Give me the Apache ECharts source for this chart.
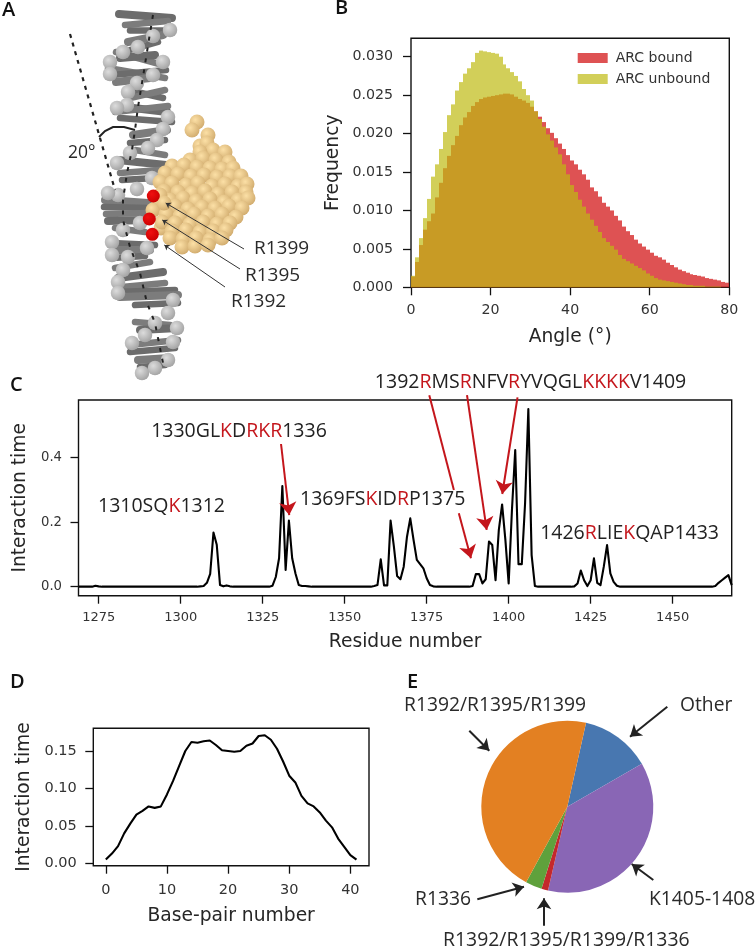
<!DOCTYPE html>
<html><head><meta charset="utf-8">
<style>html,body{margin:0;padding:0;background:#fff}#chart{width:756px;height:949px;filter:blur(.45px)}</style>
<script src="https://cdn.jsdelivr.net/npm/echarts@6/dist/echarts.min.js"></script>
</head><body><div id="chart"></div>
<script>
// ---- Panel B: histogram of angles (1 degree bins, 0..79)
const arcBound = [.0014,.0033,.0055,.0075,.0086,.0096,.0117,.0136,.0155,.0171,.0185,.0197,.0211,.0221,.0228,.0236,.0241,.0245,.0247,.0248,.0249,.0250,.0251,.0252,.0252,.0251,.0248,.0245,.0243,.0240,.0235,.0229,.0222,.0215,.0207,.0201,.0194,.0187,.0180,.0172,.0165,.0160,.0153,.0147,.0140,.0130,.0125,.0118,.0110,.0105,.0100,.0093,.0087,.0079,.0073,.0068,.0062,.0057,.0053,.0049,.0045,.0041,.0039,.0036,.0032,.0029,.0026,.0023,.0021,.0019,.0017,.0016,.0015,.0014,.0012,.0011,.0010,.0009,.0007,.0006];
const arcUnbound = [.0015,.0039,.0064,.0090,.0115,.0144,.0160,.0180,.0202,.0224,.0238,.0256,.0267,.0278,.0285,.0293,.0305,.0308,.0307,.0306,.0305,.0304,.0300,.0290,.0285,.0280,.0275,.0268,.0258,.0250,.0243,.0229,.0219,.0209,.0199,.0191,.0182,.0173,.0160,.0147,.0133,.0124,.0114,.0105,.0096,.0088,.0080,.0072,.0064,.0059,.0054,.0049,.0042,.0037,.0034,.0031,.0028,.0025,.0022,.0018,.0015,.0012,.0010,.0009,.0008,.0007,.0006,.0005,.0004,.0003,.0003,.0002,.0002,.0002,.0001,.0001,.0001,.0001,0,0];
const angleTicks = [0,20,40,60,80];
const freqTicks = [0,.005,.01,.015,.02,.025,.03];

// ---- Panel C: interaction time per residue, 1269..1468
const firstResidue = 1269;
const residueTime = [
0,0,0,0,0,.003,.001,0,0,0,
0,0,0,0,0,0,0,0,0,0,
0,0,0,0,0,0,0,0,0,0,
0,0,0,0,0,0,0,.001,.002,.012,
.04,.168,.13,.005,.001,.004,.001,0,0,0,
0,0,0,0,0,0,0,0,0,.003,
.03,.088,.312,.052,.205,.088,.041,.005,.002,.002,
.001,0,0,0,0,0,0,0,0,0,
0,0,0,0,0,0,0,0,0,0,
.002,.005,.085,.004,.004,.205,.125,.033,.023,.062,
.155,.212,.145,.083,.07,.057,.026,.005,.001,0,
0,0,0,0,0,0,0,0,0,0,
.002,.039,.039,.01,.023,.14,.129,.02,.176,.255,
.145,.01,.238,.424,.07,.07,.258,.551,.098,.002,
0,0,0,0,0,0,0,0,0,0,
0,.001,.01,.05,.02,.002,.02,.088,.012,.005,
.062,.129,.041,.015,.003,0,0,0,0,0,
0,0,0,0,0,0,0,0,0,0,
0,0,0,0,0,0,0,0,0,0,
0,0,0,0,.002,.012,.02,.028,.036,.005];
const residueTicks = [1275,1300,1325,1350,1375,1400,1425,1450];
const residueTimeTicks = [0,.2,.4];

// ---- Panel D: interaction time per base pair, 0..41
const basePairTime = [.005,.013,.023,.040,.053,.065,.070,.076,.074,.076,.092,.110,.130,.150,.162,.161,.163,.164,.158,.151,.150,.149,.150,.157,.160,.170,.171,.165,.153,.136,.117,.108,.090,.080,.076,.068,.057,.048,.033,.022,.011,.005];
const basePairTicks = [0,10,20,30,40];
const basePairTimeTicks = [0,.05,.1,.15];

// ---- Panel E: share of contacts
const pieNames = ['Other','K1405-1408','R1392/R1395/R1399/R1336','R1336','R1392/R1395/R1399'];
const pieValues = [13.2,36.9,1.25,3.1,45.55];
const pieColors = ['#4877b0','#8966b5','#c4282c','#5fa13c','#e38022'];

// ---- Panel C peptide annotations (label parts, red = charged residue)
const peptides = [
  {parts:['1310SQ','*K','1312'], at:[1274.8,.248]},
  {parts:['1330GL','*K','D','*RKR','1336'], at:[1291,.48]},
  {parts:['1369FS','*K','ID','*R','P1375'], at:[1336.4,.272]},
  {parts:['1392','*R','MS','*R','NFV','*R','YVQGL','*KKKK','V1409'], at:[1359.2,.632]},
  {parts:['1426','*R','LIE','*K','QAP1433'], at:[1409.6,.1665]}
];
const peptideArrowTail = [[1375.8,.594],[1383.3,.30]];
const peptideArrows = [
  [[1330.6,.4425],[1333.1,.222]],
  [[1384.8,.2276],[1388.5,.088]],
  [[1387.3,.594],[1393.3,.176]],
  [[1402.7,.587],[1398.05,.2874]]
];

// ---- Panel A illustration & page annotations, in page units of the overlay grid
const sketchRungs = [[119,14,172,18],[125,25,168,21],[130,30,165,30],[128,42,163,35],[130,50,158,42],[116,52,163,65],[120,58,155,55],[108,68,165,78],[112,75,166,70],[116,82,150,78],[128,90,163,98],[130,98,165,90],[125,107,167,112],[115,112,168,106],[120,118,172,122],[133,135,167,130],[130,143,165,140],[135,150,165,155],[118,160,166,165],[120,173,160,170],[122,180,155,178],[105,200,148,203],[104,207,148,208],[106,214,148,213],[108,221,148,220],[115,228,145,232],[112,243,155,245],[115,250,150,250],[112,258,145,256],[115,268,150,262],[118,278,163,272],[122,287,165,283],[115,292,175,290],[120,297,178,295],[135,305,178,303],[135,322,170,325],[140,330,178,328],[130,345,178,340],[130,352,175,348],[138,360,170,358],[140,367,165,365]];
const sketchGreyBeads = [[170,30],[153,36],[138,47],[123,52],[110,62],[110,74],[163,62],[153,75],[137,83],[128,92],[127,105],[117,108],[168,117],[163,129],[157,140],[148,148],[130,153],[117,163],[152,178],[137,189],[118,195],[108,193],[123,230],[140,223],[112,242],[112,255],[128,257],[147,248],[123,270],[118,282],[118,293],[173,300],[168,313],[155,323],[177,328],[173,342],[145,335],[132,343],[168,360],[155,368],[142,373]];
const sketchTanBeads = [[197,122],[192,130],[208,135],[200,146],[207,143],[213,150],[225,152],[200,152],[190,160],[203,158],[216,160],[229,162],[172,166],[184,165],[197,167],[210,168],[222,169],[233,168],[165,173],[178,174],[191,176],[204,175],[217,177],[230,176],[241,176],[160,182],[172,183],[186,185],[198,183],[212,186],[225,184],[238,186],[247,184],[164,191],[178,192],[192,193],[205,191],[218,194],[232,192],[246,192],[158,199],[170,200],[183,198],[196,201],[210,199],[224,202],[238,200],[248,198],[160,207],[175,206],[188,209],[202,207],[215,208],[229,206],[242,208],[153,210],[166,214],[180,216],[194,214],[208,216],[222,214],[236,217],[161,228],[162,222],[175,223],[190,224],[203,222],[217,224],[230,223],[172,231],[186,230],[200,232],[213,231],[226,230],[170,238],[183,239],[196,238],[210,240],[222,238],[182,247],[195,246],[208,245],[160,195],[164,203]];
const sketchRedBeads = [[153.3,196],[149.3,219],[152.3,234.3]];
const sketchHelixAxis = [[153,15],[150,33],[143,77],[138,107],[135,130],[132,150],[127,173],[123,200],[123,220],[130,247],[140,273],[147,303],[155,323],[163,363]];
const sketchTiltAxis = [[70,34],[115,190]];
const sketchArc = [[99,137],[105,131],[113,127],[124,127],[135,130]];
const sketchThinArrows = [[[244,249],[165.7,203]],[[240,269],[162.3,220]],[[225,287],[164.3,245]]];
const pieArrows = [[[667.3,706.7],[630,736.7]],[[469.3,730.7],[489.3,750.7]],[[653.3,880],[631.7,864]],[[477.3,899.3],[524,886.7]],[[544,925.7],[544,898.3]]];
const plainLabels = [
  ['20°',68,153,17.5],['R1399',254,249,19],['R1395',245,276,19],['R1392',231,302,19],
  ['R1392/R1395/R1399',404,706,19.3],['Other',680,706,19.3],['R1336',415,900,19.3],['K1405-1408',649,900,19.3],['R1392/R1395/R1399/R1336',443,940,19.4]
];
const panelLetters = [['A',2,10],['B',335,8],['C',10,385],['D',10,682],['E',407,682]];

// ---- Build
const tickFont = 'DejaVu Sans', ink = '#262626';
const frame = {show:true,borderColor:'#111',borderWidth:1.4,backgroundColor:'transparent'};
function valueAxis(ext){
  return Object.assign({type:'value',splitLine:{show:false},
    axisLine:{show:false,onZero:false},
    nameLocation:'middle',nameTextStyle:{fontFamily:tickFont,fontSize:18.7,color:ink}},ext);
}
function ticks(values,size,margin,fmt){
  return {
    axisTick:{show:true,length:8,lineStyle:{color:'#111',width:1.3},customValues:values},
    axisLabel:{show:true,fontFamily:tickFont,fontSize:size,color:'#333',margin:margin,customValues:values,formatter:fmt,hideOverlap:false}
  };
}
const hiddenX={type:'value',min:0,max:756,show:false,gridIndex:3};
const hiddenY={type:'value',min:0,max:949,inverse:true,show:false,gridIndex:3};
const overlay={xAxisIndex:3,yAxisIndex:3,silent:true,animation:false};
function bead(c0,c1){return {type:'radial',x:.38,y:.35,r:.72,colorStops:[{offset:0,color:c0},{offset:1,color:c1}]};}

const textSeries = (name,rows,style) => ({
  ...overlay,type:'scatter',name,symbolSize:1,itemStyle:{color:'transparent',opacity:1},clip:false,z:20,
  data:rows.map(r=>({value:[r[1],r[2]],label:{fontSize:r[3]||style.fontSize},name:r[0]})),
  label:{show:true,position:'inside',align:'left',verticalAlign:'middle',formatter:p=>p.name,...style}
});
const histSeries = (name,values,color) => ({
  type:'custom',name,xAxisIndex:0,yAxisIndex:0,silent:true,clip:false,itemStyle:{color},
  encode:{x:0,y:1},
  data:values.map((v,i)=>[i,v]),
  renderItem:(params,api)=>{
    const i=api.value(0),v=api.value(1);
    const p0=api.coord([i,0]),p1=api.coord([i+1,v]);
    const x0=Math.round(p0[0]),x1=Math.round(p1[0]);
    return {type:'rect',shape:{x:x0,y:p1[1],width:x1-x0,height:p0[1]-p1[1]},style:{fill:color}};
  }
});

const richStyles={k:{fontFamily:'Open Sans',fontSize:19.5,color:'#222'},r:{fontFamily:'Open Sans',fontSize:19.5,color:'#c4161c'}};

const option={
  animation:false,
  backgroundColor:'#fff',
  grid:[
    {left:411,top:38.3,width:318.3,height:249,...frame},
    {left:78.5,top:400,width:653.2,height:195.7,...frame},
    {left:93.3,top:728.3,width:275.7,height:137.4,...frame},
    {left:0,top:0,width:756,height:949,show:false}
  ],
  xAxis:[
    valueAxis({gridIndex:0,min:0,max:80,name:'Angle (°)',nameGap:40,...ticks(angleTicks,14.2,16,v=>String(v))}),
    valueAxis({gridIndex:1,min:1268.85,max:1468,name:'Residue number',nameGap:37,...ticks(residueTicks,13,15,v=>String(v))}),
    valueAxis({gridIndex:2,min:-2.05,max:43.05,name:'Base-pair number',nameGap:41,...ticks(basePairTicks,14.5,17,v=>String(v))}),
    hiddenX
  ],
  yAxis:[
    valueAxis({gridIndex:0,min:0,max:.0324,name:'Frequency',nameGap:68,...ticks(freqTicks,14.2,18,v=>v.toFixed(3))}),
    valueAxis({gridIndex:1,min:-.028,max:.579,name:'Interaction time',nameGap:48,...ticks(residueTimeTicks,13.2,16.5,v=>v.toFixed(1))}),
    valueAxis({gridIndex:2,min:-.0032,max:.1803,name:'Interaction time',nameGap:60,...ticks(basePairTimeTicks,14.5,16.5,v=>v.toFixed(2))}),
    hiddenY
  ],
  legend:{orient:'vertical',left:572.7,top:46,itemWidth:30,itemHeight:10,itemGap:7,icon:'rect',
    data:['ARC bound','ARC unbound'],selectedMode:false,
    textStyle:{fontFamily:tickFont,fontSize:14,color:'#333',padding:[0,0,0,3]}},
  series:[
    histSeries('ARC bound',arcBound,'rgba(214,39,40,.8)'),
    histSeries('ARC unbound',arcUnbound,'rgba(191,186,19,.7)'),
    {type:'line',name:'Residue interaction',xAxisIndex:1,yAxisIndex:1,symbol:'none',silent:true,
      lineStyle:{color:'#000',width:2.1,join:'round'},data:residueTime.map((v,i)=>[firstResidue+i,v])},
    {type:'line',name:'Base-pair interaction',xAxisIndex:2,yAxisIndex:2,symbol:'none',silent:true,
      lineStyle:{color:'#000',width:2.1},data:basePairTime.map((v,i)=>[i,v])},
    {type:'pie',name:'Contacts',center:[567.3,806.7],radius:86,startAngle:77.4,silent:true,label:{show:false},labelLine:{show:false},
      data:pieNames.map((n,i)=>({name:n,value:pieValues[i],itemStyle:{color:pieColors[i]}}))},

    // Panel C annotations, on the chart's own axes
    {type:'lines',coordinateSystem:'cartesian2d',xAxisIndex:1,yAxisIndex:1,silent:true,clip:false,z:6,
      symbol:['none','none'],lineStyle:{color:'#c4161c',width:2,opacity:1},
      data:[{coords:peptideArrowTail}]},
    {type:'lines',coordinateSystem:'cartesian2d',xAxisIndex:1,yAxisIndex:1,silent:true,clip:false,z:6,
      symbol:['none','arrow'],symbolSize:13,lineStyle:{color:'#c4161c',width:2,opacity:1},
      data:peptideArrows.map(a=>({coords:a}))},
    {type:'scatter',xAxisIndex:1,yAxisIndex:1,silent:true,clip:false,symbolSize:1,itemStyle:{color:'transparent',opacity:1},z:7,
      data:peptides.map(p=>({value:p.at,label:{formatter:p.parts.map(s=>s[0]==='*'?`{r|${s.slice(1)}}`:`{k|${s}}`).join('')}})),
      label:{show:true,position:'inside',align:'left',verticalAlign:'middle',rich:richStyles}},

    // Panel A illustration
    {...overlay,type:'lines',coordinateSystem:'cartesian2d',polyline:false,z:2,clip:false,
      data:sketchRungs.map((r,i)=>({coords:[[r[0],r[1]],[r[2],r[3]]],lineStyle:{color:i%2?'#7c7c7c':'#6c6c6c',width:i%3?6.5:8,cap:'round',opacity:1}}))},
    {...overlay,type:'scatter',z:3,symbolSize:14.5,clip:false,itemStyle:{color:bead('#dcdcdc','#a0a0a0'),opacity:1},data:sketchGreyBeads},
    {...overlay,type:'lines',coordinateSystem:'cartesian2d',polyline:true,z:4,clip:false,
      lineStyle:{color:'#222',width:2,type:[4,7],opacity:1},data:[{coords:sketchHelixAxis}]},
    {...overlay,type:'lines',coordinateSystem:'cartesian2d',polyline:true,z:4,clip:false,
      lineStyle:{color:'#222',width:2.2,type:[4,5],opacity:1},data:[{coords:sketchTiltAxis}]},
    {...overlay,type:'lines',coordinateSystem:'cartesian2d',polyline:true,z:4,clip:false,
      lineStyle:{color:'#222',width:2,opacity:1},data:[{coords:sketchArc}]},
    {...overlay,type:'scatter',z:5,symbolSize:15,clip:false,itemStyle:{color:bead('#fce0a6','#cfa96b'),opacity:1},data:sketchTanBeads},
    {...overlay,type:'scatter',z:6,symbolSize:13,clip:false,itemStyle:{color:bead('#f01010','#c80000'),opacity:1},data:sketchRedBeads},
    {...overlay,type:'lines',coordinateSystem:'cartesian2d',z:7,clip:false,symbol:['none','arrow'],symbolSize:5,
      lineStyle:{color:'#333',width:1,opacity:1},data:sketchThinArrows.map(a=>({coords:a}))},

    // Pie arrows, labels and panel letters
    {...overlay,type:'lines',coordinateSystem:'cartesian2d',z:7,clip:false,symbol:['none','arrow'],symbolSize:11,
      lineStyle:{color:'#222',width:2,opacity:1},data:pieArrows.map(a=>({coords:a}))},
    textSeries('labels',plainLabels,{fontFamily:'Open Sans',fontSize:19.3,color:'#2a2a2a'}),
    textSeries('letters',panelLetters,{fontFamily:'Open Sans',fontWeight:600,fontSize:20,color:'#111'})
  ]
};
const chart=echarts.init(document.getElementById('chart'),null,{renderer:'canvas'});
chart.setOption(option);
</script></body></html>
